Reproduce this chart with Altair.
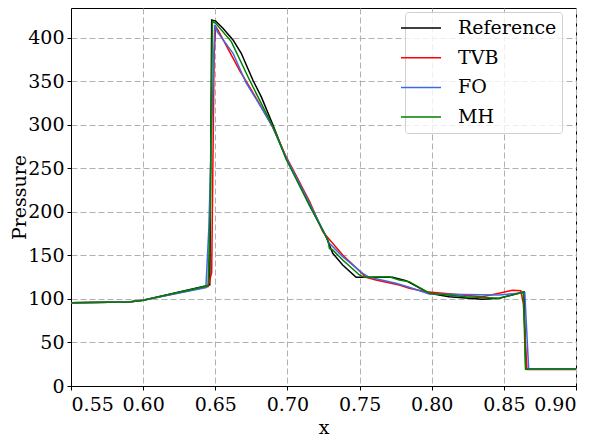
import altair as alt
import pandas as pd

series_names = ["Reference", "TVB", "FO", "MH"]
series_colors = ["#000000", "#ff0000", "#4169e1", "#008000"]

ref_x = [0.55, 0.59, 0.60, 0.6462, 0.6475, 0.6503, 0.6553, 0.6623, 0.668, 0.6761, 0.6819, 0.6899, 0.6992,
         0.7072, 0.7153, 0.7268, 0.7314, 0.7383, 0.7476, 0.7568, 0.7729, 0.7822, 0.7983, 0.8121, 0.8351,
         0.8467, 0.864, 0.8652, 0.90]
ref_p = [95.5, 96.5, 98.5, 116, 420.3, 419, 410.7, 397.3, 382, 351, 332, 300, 261,
         237, 208, 171.5, 152.4, 139, 124.8, 124.8, 124.8, 121, 106.5, 102.5, 99.5,
         100.7, 108, 19.5, 19.5]

tvb_x = [0.55, 0.59, 0.60, 0.645, 0.6475, 0.6492, 0.6503, 0.6518, 0.6669, 0.675, 0.6899, 0.6992, 0.7153,
         0.7245, 0.7383, 0.7545, 0.7614, 0.7775, 0.7844, 0.796, 0.8351, 0.8467, 0.856, 0.8617, 0.8635,
         0.866, 0.90]
tvb_p = [95.5, 96.5, 98.5, 114, 130, 380, 412.6, 408.8, 362, 340, 297, 263, 212,
         177.2, 150.4, 124.8, 121.7, 116, 112.2, 108.3, 102.5, 106.5, 110, 109.4, 95,
         19, 19]

fo_x = [0.55, 0.59, 0.60, 0.6435, 0.6455, 0.6496, 0.6518, 0.6623, 0.6715, 0.6819, 0.6899, 0.6992, 0.7153,
        0.7291, 0.7383, 0.7522, 0.7568, 0.7752, 0.7844, 0.7983, 0.8467, 0.856, 0.8645, 0.8672, 0.90]
fo_p = [95.5, 96.5, 98.5, 113, 180, 414.6, 405.7, 382, 347.6, 320, 297, 262, 210,
        163.9, 148.5, 129.4, 124.8, 118, 113.3, 105.7, 104.5, 106, 107, 19.5, 19.5]

mh_x = [0.55, 0.59, 0.60, 0.645, 0.6465, 0.648, 0.6503, 0.6611, 0.6738, 0.6899, 0.6992, 0.7153, 0.728,
        0.7291, 0.7314, 0.7383, 0.7499, 0.7533, 0.7706, 0.7775, 0.7844, 0.7983, 0.8237, 0.8467, 0.8635,
        0.865, 0.90]
mh_p = [95.5, 96.5, 98.5, 115, 200, 418.4, 416.4, 395.4, 351, 298, 260, 207, 167.7,
        158, 156.2, 144.7, 127.5, 124.8, 125.5, 121.7, 119.8, 106.5, 102.5, 100.7, 108,
        19.5, 19.5]

x_ticks = [0.55, 0.60, 0.65, 0.70, 0.75, 0.80, 0.85, 0.90]
y_ticks = [0, 50, 100, 150, 200, 250, 300, 350, 400]

rows = []
for name, xs, ps in zip(series_names, [ref_x, tvb_x, fo_x, mh_x], [ref_p, tvb_p, fo_p, mh_p]):
    for xv, pv in zip(xs, ps):
        rows.append({"x": xv, "p": pv, "s": name})
df = pd.DataFrame(rows)

FONT = "DejaVu Serif"

chart = alt.Chart(df).mark_line(strokeWidth=1.5, clip=True).encode(
    x=alt.X("x:Q", title="x",
            scale=alt.Scale(domain=[0.55, 0.90], nice=False, zero=False),
            axis=alt.Axis(values=x_ticks, format=".2f")),
    y=alt.Y("p:Q", title="Pressure",
            scale=alt.Scale(domain=[0, 434], nice=False),
            axis=alt.Axis(values=y_ticks, titleX=-42, titleBaseline="bottom")),
    color=alt.Color("s:N", title=None,
                    scale=alt.Scale(domain=series_names, range=series_colors),
                    legend=alt.Legend(orient="none", legendX=334, legendY=4,
                                      symbolType="M-2,0L2,0", symbolSize=400,
                                      symbolStrokeWidth=1.5, rowPadding=8.7,
                                      labelFont=FONT, labelFontSize=19, labelColor="black",
                                      labelOffset=26, padding=5,
                                      fillColor="rgba(255,255,255,0.8)", strokeColor="#d0d0d0",
                                      cornerRadius=3)),
    order=alt.Order("x:Q"),
).properties(
    width=505, height=378,
    autosize=alt.AutoSizeParams(type="none"),
    padding={"left": 63, "top": 0, "right": 13, "bottom": 50},
).configure_view(
    stroke="black", strokeWidth=1
).configure_axis(
    labelFont=FONT, labelFontSize=19, labelColor="black",
    titleFont=FONT, titleFontSize=19, titleColor="black", titleFontWeight="normal",
    domainColor="black", tickColor="black", tickSize=4, tickWidth=1,
    grid=True, gridColor="#b0b0b0", gridDash=[6, 3], gridWidth=1,
).configure_axisX(
    labelPadding=5, titlePadding=4
).configure_axisY(
    labelPadding=3
)

chart.save("out.html", embed_options={"renderer": "svg", "actions": False})
